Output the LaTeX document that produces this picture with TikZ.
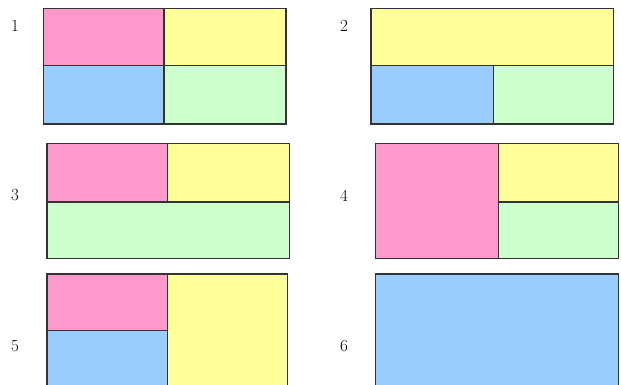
\documentclass[tikz,border=0pt]{standalone}
\usepackage{tikz}
\usepackage{xcolor}
\definecolor{pinkcell}{HTML}{FF99CC}
\definecolor{yellowcell}{HTML}{FFFF99}
\definecolor{bluecell}{HTML}{99CCFF}
\definecolor{greencell}{HTML}{CCFFCC}
\definecolor{edgegray}{HTML}{333333}
\tikzset{
  cell/.style={draw=edgegray, line width=1.1pt},
  num/.style={font=\fontsize{17}{20}\selectfont, inner sep=0pt}
}

\begin{document}
\begin{tikzpicture}[x=1pt,y=-1pt]
  \clip (0,0) rectangle (621,385);
  \fill[white] (0,0) rectangle (621,385);
  % layout 1
  \filldraw[cell, fill=pinkcell] (43.5,8.5) rectangle (164,65.5);
  \filldraw[cell, fill=yellowcell] (164,8.5) rectangle (286,65.5);
  \filldraw[cell, fill=bluecell] (43.5,65.5) rectangle (164,124);
  \filldraw[cell, fill=greencell] (164,65.5) rectangle (286,124);
  \node[num] (n1) at (15,26) {1};
  % layout 2
  \filldraw[cell, fill=yellowcell] (371,8.5) rectangle (613.5,65.5);
  \filldraw[cell, fill=bluecell] (371,65.5) rectangle (493.5,124);
  \filldraw[cell, fill=greencell] (493.5,65.5) rectangle (613.5,124);
  \node[num] (n2) at (344,26) {2};
  % layout 3
  \filldraw[cell, fill=pinkcell] (47,143.5) rectangle (167.5,202);
  \filldraw[cell, fill=yellowcell] (167.5,143.5) rectangle (289.5,202);
  \filldraw[cell, fill=greencell] (47,202) rectangle (289.5,258.5);
  \node[num] (n3) at (15,195) {3};
  % layout 4
  \filldraw[cell, fill=pinkcell] (375.5,143.5) rectangle (498.5,258.5);
  \filldraw[cell, fill=yellowcell] (498.5,143.5) rectangle (618.5,202);
  \filldraw[cell, fill=greencell] (498.5,202) rectangle (618.5,258.5);
  \node[num] (n4) at (344,196) {4};
  % layout 5
  \filldraw[cell, fill=pinkcell] (47,274) rectangle (167.5,330.5);
  \filldraw[cell, fill=bluecell] (47,330.5) rectangle (167.5,400);
  \filldraw[cell, fill=yellowcell] (167.5,274) rectangle (287.5,400);
  \node[num] (n5) at (15,346) {5};
  % layout 6
  \filldraw[cell, fill=bluecell] (375.5,274) rectangle (618.5,400);
  \node[num] (n6) at (344,346) {6};
\end{tikzpicture}
\end{document}
